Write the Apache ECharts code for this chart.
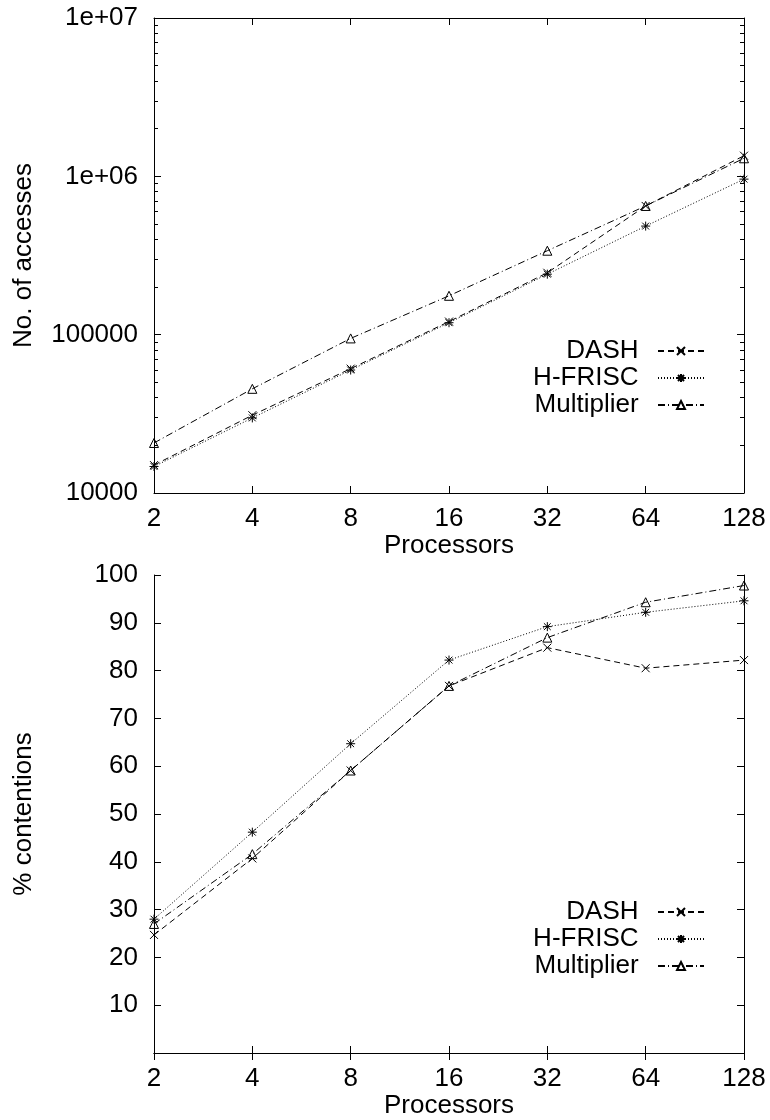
<!DOCTYPE html>
<html>
<head>
<meta charset="utf-8">
<script src="https://cdn.jsdelivr.net/npm/echarts@6/dist/echarts.min.js"></script>
<style>
  html, body { margin: 0; padding: 0; background: #fff; }
  #chart { width: 770px; height: 1120px; }
</style>
</head>
<body>
<div id="chart"></div>
<script>
// Processor counts along the x axis
const processors = ['2', '4', '8', '16', '32', '64', '128'];

// Upper panel: number of accesses (log scale)
const accessDash = [15000, 31000, 61000, 121000, 246000, 650000, 1350000];
const accessHfrisc = [14700, 29800, 59800, 119000, 241000, 485000, 960000];
const accessMultiplier = [20700, 45500, 94700, 176000, 339000, 650000, 1300000];

// Lower panel: percentage of contentions
const contDash = [24.7, 40.7, 59.1, 76.8, 84.8, 80.5, 82.2];
const contHfrisc = [28.0, 46.2, 64.7, 82.2, 89.2, 92.2, 94.6];
const contMultiplier = [27.0, 41.6, 59.1, 76.8, 86.9, 94.3, 97.8];

// Log axis decade labels
const accessTickValues = [10000, 100000, 1000000, 10000000];
const accessTickLabels = ['10000', '100000', '1e+06', '1e+07'];
// Minor log ticks (2..9 within each decade)
const accessMinorTicks = [];
[10000, 100000, 1000000].forEach(d => {
  for (let k = 2; k <= 9; k++) accessMinorTicks.push(k * d);
});

const seriesNames = ['DASH', 'H-FRISC', 'Multiplier'];

const FONT = 'Liberation Sans, Arial, Helvetica, sans-serif';
const FS = 26;
const INK = '#000';

const crossPath = 'path://M0,0L10,10M10,0L0,10';
const starPath = 'path://M5,0L5,10M0,5L10,5M1.2,1.2L8.8,8.8M8.8,1.2L1.2,8.8';

const lineStyles = [
  { type: [6, 4], width: 1, color: INK },
  { type: [1, 2], width: 1, color: INK },
  { type: [7, 3, 1, 3], width: 1, color: INK }
];
const symbols = [crossPath, starPath, 'triangle'];
const symbolSizes = [8, 9, 9];

function makeSeries(name, idx, data, xi, yi) {
  return {
    name: name,
    type: 'line',
    xAxisIndex: xi,
    yAxisIndex: yi,
    data: data,
    symbol: symbols[idx],
    symbolSize: symbolSizes[idx],
    showAllSymbol: true,
    lineStyle: lineStyles[idx],
    itemStyle: { color: 'rgba(255,255,255,0)', borderColor: INK, borderWidth: 1 },
    emphasis: { disabled: true },
    animation: false,
    z: 3
  };
}

const frameLine = { show: true, lineStyle: { color: INK, width: 1 } };
const tickMajor = { show: true, inside: true, length: 7, lineStyle: { color: INK, width: 1 } };
const tickMinor = { show: true, inside: true, length: 4, lineStyle: { color: INK, width: 1 } };
const labelStyle = { color: INK, fontFamily: FONT, fontSize: FS };

function catAxis(gridIndex, position, withLabels) {
  return {
    type: 'category',
    gridIndex: gridIndex,
    position: position,
    data: processors,
    boundaryGap: false,
    axisLine: frameLine,
    axisTick: Object.assign({ alignWithLabel: true, interval: 0 }, tickMajor),
    axisLabel: withLabels ? Object.assign({ margin: 13, interval: 0 }, labelStyle) : { show: false },
    splitLine: { show: false },
    name: withLabels ? 'Processors' : '',
    nameLocation: 'middle',
    nameGap: 38,
    nameTextStyle: labelStyle
  };
}

function legendAt(top) {
  return {
    orient: 'vertical', right: 60, top: top, align: 'right',
    itemWidth: 46, itemHeight: 10, itemGap: 1,
    data: seriesNames,
    formatter: n => n + '  ',
    textStyle: { color: INK, fontFamily: FONT, fontSize: FS, lineHeight: 26 },
    selectedMode: false
  };
}

const option = {
  backgroundColor: '#fff',
  animation: false,
  textStyle: { fontFamily: FONT },
  grid: [
    { left: 154, top: 18, width: 590, height: 475 },
    { left: 154, top: 575, width: 590, height: 478 }
  ],
  legend: [legendAt(333), legendAt(894)],
  xAxis: [
    catAxis(0, 'bottom', true),
    catAxis(0, 'top', false),
    catAxis(1, 'bottom', true),
    catAxis(1, 'top', false)
  ],
  yAxis: [
    {
      type: 'log', logBase: 10, gridIndex: 0, position: 'left',
      min: 10000, max: 10000000,
      axisLine: frameLine, axisTick: tickMajor,
      axisLabel: Object.assign({
        margin: 16,
        formatter: v => {
          const i = accessTickValues.findIndex(t => Math.abs(t - v) / t < 1e-6);
          return i >= 0 ? accessTickLabels[i] : '';
        }
      }, labelStyle),
      splitLine: { show: false },
      name: 'No. of accesses', nameLocation: 'middle', nameGap: 117,
      nameTextStyle: labelStyle
    },
    {
      type: 'log', logBase: 10, gridIndex: 0, position: 'left',
      min: 10000, max: 10000000,
      axisLine: { show: false },
      axisTick: Object.assign({ customValues: accessMinorTicks }, tickMinor),
      axisLabel: { show: false }, splitLine: { show: false }
    },
    {
      type: 'log', logBase: 10, gridIndex: 0, position: 'right',
      min: 10000, max: 10000000,
      axisLine: frameLine, axisTick: tickMajor,
      axisLabel: { show: false }, splitLine: { show: false }
    },
    {
      type: 'log', logBase: 10, gridIndex: 0, position: 'right',
      min: 10000, max: 10000000,
      axisLine: { show: false },
      axisTick: Object.assign({ customValues: accessMinorTicks }, tickMinor),
      axisLabel: { show: false }, splitLine: { show: false }
    },
    {
      type: 'value', gridIndex: 1, position: 'left',
      min: 0, max: 100, interval: 10,
      axisLine: frameLine, axisTick: tickMajor,
      axisLabel: Object.assign({ margin: 16, showMinLabel: false }, labelStyle),
      splitLine: { show: false },
      name: '% contentions', nameLocation: 'middle', nameGap: 117,
      nameTextStyle: labelStyle
    },
    {
      type: 'value', gridIndex: 1, position: 'right',
      min: 0, max: 100, interval: 10,
      axisLine: frameLine, axisTick: tickMajor,
      axisLabel: { show: false }, splitLine: { show: false }
    }
  ],
  series: [
    makeSeries('DASH', 0, accessDash, 0, 0),
    makeSeries('H-FRISC', 1, accessHfrisc, 0, 0),
    makeSeries('Multiplier', 2, accessMultiplier, 0, 0),
    makeSeries('DASH', 0, contDash, 2, 4),
    makeSeries('H-FRISC', 1, contHfrisc, 2, 4),
    makeSeries('Multiplier', 2, contMultiplier, 2, 4)
  ]
};

const chart = echarts.init(document.getElementById('chart'), null, { renderer: 'canvas' });
chart.setOption(option);
</script>
</body>
</html>
